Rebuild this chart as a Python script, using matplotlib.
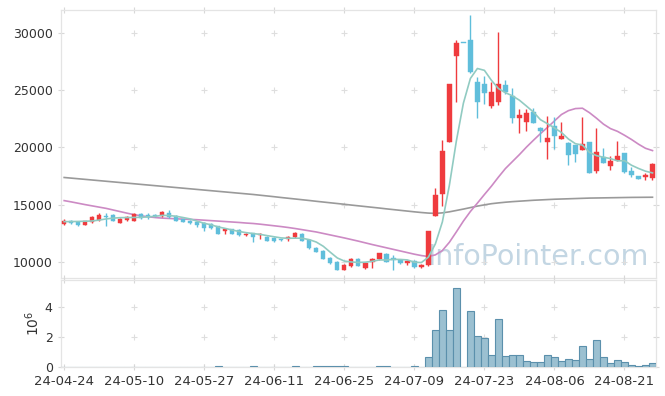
import numpy as np
import matplotlib
matplotlib.use("Agg")
import matplotlib.pyplot as plt

# trading days shown on the chart
dates = ["24-04-24", "24-04-25", "24-04-26", "24-04-29", "24-04-30", "24-05-02", "24-05-03",
         "24-05-07", "24-05-08", "24-05-09", "24-05-10", "24-05-13", "24-05-14", "24-05-16",
         "24-05-17", "24-05-20", "24-05-21", "24-05-22", "24-05-23", "24-05-24", "24-05-27",
         "24-05-28", "24-05-29", "24-05-30", "24-05-31", "24-06-03", "24-06-04", "24-06-05",
         "24-06-07", "24-06-10", "24-06-11", "24-06-12", "24-06-13", "24-06-14", "24-06-17",
         "24-06-18", "24-06-19", "24-06-20", "24-06-21", "24-06-24", "24-06-25", "24-06-26",
         "24-06-27", "24-06-28", "24-07-01", "24-07-02", "24-07-03", "24-07-04", "24-07-05",
         "24-07-08", "24-07-09", "24-07-10", "24-07-11", "24-07-12", "24-07-15", "24-07-16",
         "24-07-17", "24-07-18", "24-07-19", "24-07-22", "24-07-23", "24-07-24", "24-07-25",
         "24-07-26", "24-07-29", "24-07-30", "24-07-31", "24-08-01", "24-08-02", "24-08-05",
         "24-08-06", "24-08-07", "24-08-08", "24-08-09", "24-08-12", "24-08-13", "24-08-14",
         "24-08-16", "24-08-19", "24-08-20", "24-08-21", "24-08-22", "24-08-23", "24-08-26",
         "24-08-27"]

opens = [13320, 13580, 13490, 13260, 13490, 13640, 14050, 14100, 13440, 13670,
         13610, 14190, 14080, 14130, 13990, 14250, 14020, 13730, 13610, 13520,
         13380, 13320, 13120, 12710, 12850, 12800, 12330, 12500, 12360, 12210,
         12130, 12010, 12010, 12150, 12450, 11950, 11220, 10960, 10380, 10000,
         9330, 9680, 10260, 9510, 10030, 10260, 10700, 10320, 10180, 9950,
         10090, 9540, 9740, 14050, 15900, 20460, 28020, 29150, 29420, 25700,
         25520, 23660, 24010, 25460, 24530, 22610, 22260, 23100, 21680, 20510,
         21910, 20740, 20420, 20220, 19780, 20480, 17980, 19200, 18390, 18910,
         19550, 17950, 17510, 17450, 17310]
highs = [13730, 13670, 13500, 13560, 14050, 14310, 14250, 14190, 13810, 14050,
         14250, 14250, 14250, 14160, 14450, 14540, 14100, 13760, 13670, 13580,
         13470, 13380, 13170, 12880, 12910, 12850, 12530, 12530, 12530, 12240,
         12180, 12040, 12300, 12650, 12530, 12010, 11280, 11020, 10440, 10060,
         9800, 10380, 10320, 10000, 10320, 10820, 10820, 10620, 10240, 10180,
         10180, 9800, 12710, 16440, 20660, 25550, 29390, 29150, 31570, 26190,
         26250, 25700, 30100, 25880, 25200, 23350, 23350, 23420, 21820, 22750,
         22640, 22230, 20450, 20250, 22640, 20480, 21680, 19930, 19260, 20600,
         19550, 18270, 17510, 17750, 18620]
lows = [13230, 13320, 13170, 13250, 13430, 13610, 13170, 13550, 13380, 13610,
        13550, 13760, 13790, 13960, 13900, 13870, 13580, 13460, 13290, 13090,
        12740, 12880, 12420, 12420, 12420, 12300, 12240, 11720, 12010, 11800,
        11780, 11830, 11830, 12070, 11830, 11170, 10870, 10230, 9860, 9270,
        9270, 9590, 9620, 9420, 9500, 10200, 10000, 9310, 9830, 9740,
        9510, 9480, 9650, 14050, 14900, 20460, 24010, 29150, 26480, 22610,
        23800, 23430, 23700, 24700, 22120, 21230, 21430, 22110, 20510, 18970,
        19840, 20740, 18470, 18760, 19780, 17800, 17800, 18620, 18040, 18850,
        17800, 17450, 17220, 17160, 17160]
closes = [13600, 13410, 13260, 13550, 13930, 14100, 13960, 13610, 13730, 13900,
          14190, 13810, 13960, 13990, 14380, 13960, 13610, 13520, 13440, 13230,
          13000, 13000, 12480, 12850, 12480, 12360, 12480, 12210, 12480, 11870,
          11860, 11920, 12180, 12530, 11860, 11250, 10900, 10290, 9940, 9330,
          9740, 10290, 9680, 9940, 10260, 10780, 10030, 10150, 9890, 10090,
          9540, 9740, 12710, 15850, 19680, 25550, 29160, 29150, 26630, 24010,
          24740, 24820, 25550, 24820, 22610, 22840, 23020, 22180, 21470, 20860,
          21000, 21000, 19350, 19430, 20280, 17800, 19580, 18680, 18820, 19260,
          17890, 17600, 17280, 17600, 18530]
volumes = [15000, 12000, 14000, 10000, 16000, 18000, 13000, 12000, 11000, 14000,
           15000, 12000, 10000, 11000, 17000, 16000, 12000, 10000, 11000, 12000,
           14000, 13000, 60000, 15000, 12000, 13000, 14000, 60000, 15000, 12000,
           13000, 12000, 15000, 60000, 14000, 16000, 60000, 60000, 60000, 60000,
           60000, 16000, 14000, 15000, 18000, 60000, 60000, 20000, 15000, 18000,
           60000, 20000, 650000, 2480000, 3780000, 2480000, 5300000, 0, 3720000, 2090000,
           1960000, 780000, 3200000, 720000, 780000, 780000, 390000, 330000, 330000, 780000,
           650000, 390000, 520000, 460000, 1370000, 520000, 1830000, 650000, 260000, 460000,
           330000, 130000, 70000, 130000, 260000]

# moving averages as drawn on the chart (5, 20 and 120 days)
ma5 = [13520, 13530, 13540, 13560, 13580, 13660, 13760, 13830, 13870, 13880,
       13890, 13900, 13940, 13990, 14070, 14060, 13990, 13880, 13760, 13560,
       13380, 13240, 13060, 12930, 12790, 12660, 12560, 12480, 12410, 12300,
       12200, 12100, 12070, 12080, 12070, 11950, 11740, 11370, 10850, 10350,
       10080, 10000, 9960, 9980, 10060, 10180, 10170, 10230, 10220, 10180,
       9980, 9950, 10420, 11580, 13500, 16700, 20580, 23870, 26030, 26900,
       26740, 25870, 25150, 24790, 24510, 24130, 23620, 23100, 22430, 22080,
       21710, 21310, 20740, 20330, 20210, 19570, 19290, 19150, 19030, 18830,
       18850, 18450, 18170, 17930, 17780]
ma20 = [15360, 15250, 15130, 15010, 14900, 14790, 14680, 14540, 14400, 14260,
        14130, 14030, 13950, 13880, 13830, 13800, 13770, 13740, 13720, 13690,
        13650, 13610, 13570, 13530, 13490, 13450, 13400, 13360, 13300, 13230,
        13160, 13090, 13010, 12920, 12820, 12720, 12620, 12490, 12360, 12230,
        12100, 11960, 11820, 11670, 11520, 11380, 11240, 11100, 10960, 10820,
        10680, 10560, 10480, 10620, 11000, 11720, 12630, 13570, 14410, 15140,
        15890, 16620, 17410, 18160, 18770, 19380, 20030, 20630, 21210, 21750,
        22320, 22880, 23220, 23400, 23430, 23040, 22560, 22040, 21650, 21410,
        21070, 20700, 20290, 19930, 19730]
ma120 = [17380, 17325, 17270, 17215, 17160, 17105, 17050, 16995, 16940, 16885,
         16830, 16775, 16720, 16665, 16610, 16555, 16500, 16445, 16390, 16335,
         16280, 16225, 16170, 16115, 16060, 16005, 15950, 15895, 15830, 15765,
         15700, 15630, 15565, 15500, 15435, 15370, 15300, 15235, 15170, 15105,
         15040, 14970, 14905, 14840, 14775, 14710, 14640, 14575, 14510, 14445,
         14380, 14320, 14270, 14240, 14290, 14380, 14500, 14620, 14750, 14880,
         14990, 15090, 15160, 15220, 15270, 15310, 15350, 15390, 15420, 15450,
         15480, 15500, 15520, 15540, 15560, 15580, 15590, 15600, 15610, 15620,
         15630, 15640, 15645, 15650, 15655]

price_ticks = [10000, 15000, 20000, 25000, 30000]
vol_ticks = [0, 2000000, 4000000]
vol_tick_labels = ["0", "2", "4"]

up_col = "#ef3b3e"
down_col = "#60bedb"
tick_col = "#d8d8d8"
spine_col = "#e4e4e4"
text_col = "#333333"

o = np.array(opens)
h = np.array(highs)
l = np.array(lows)
c = np.array(closes)
idx = np.arange(len(dates))
colors = np.where(c > o, up_col, down_col)

fig = plt.figure(figsize=(6.65, 3.96), dpi=100)
ax = fig.add_axes([61 / 665, 1 - 278 / 396, 595 / 665, 268 / 396])
axv = fig.add_axes([61 / 665, 1 - 367 / 396, 595 / 665, 87 / 396])

xlim = (-0.45, 84.5)
xt = list(range(0, len(dates), 10))

# candles
ax.vlines(idx, l, h, colors=colors, linewidth=1.0, zorder=3)
body_h = np.maximum(np.abs(c - o), 30)
ax.bar(idx, body_h, bottom=np.minimum(o, c), width=0.62, color=colors,
       edgecolor=colors, linewidth=0.3, zorder=4)

# moving averages
ax.plot(idx, ma120, color="#9a9a9a", linewidth=1.2, zorder=2)
ax.plot(idx, ma20, color="#cc8ac4", linewidth=1.2, zorder=2)
ax.plot(idx, ma5, color="#91cbc2", linewidth=1.2, zorder=5)

ax.text(0.987, 0.08, "InfoPointer.com", transform=ax.transAxes, ha="right", va="center",
        fontsize=20.5, color="#c3d6e3", zorder=1)

ax.set_xlim(xlim)
ax.set_ylim(8600, 32010)
ax.set_yticks(price_ticks)
ax.set_xticks(xt)
ax.set_xticklabels([])

# volume
axv.bar(idx, volumes, width=1.0, color="#9bc0d1", edgecolor="#5b90ac", linewidth=0.8, zorder=3)
axv.set_xlim(xlim)
axv.set_ylim(0, 5800000)
axv.set_yticks(vol_ticks)
axv.set_yticklabels(vol_tick_labels)
axv.set_xticks(xt)
axv.set_xticklabels([dates[i] for i in xt])
axv.set_ylabel("$10^6$", fontsize=10, color=text_col, labelpad=2)

for a, yt in ((ax, price_ticks), (axv, vol_ticks)):
    for s in a.spines.values():
        s.set_color(spine_col)
        s.set_linewidth(0.9)
    a.tick_params(direction="inout", length=5, width=0.8, color=tick_col,
                  labelcolor=text_col, labelsize=9, top=True, right=True)
    # small crosses where the grid lines would meet
    gx, gy = np.meshgrid(xt[1:], yt)
    a.scatter(gx.ravel(), gy.ravel(), marker="+", s=14, color="#dedede", linewidths=0.8, zorder=1)

axv.tick_params(axis="x", labelsize=9.5, pad=3.5)
# lift the zero label a little so it clears the date labels
for lab in axv.get_yticklabels():
    lab.set_verticalalignment("center_baseline")

fig.savefig("out.png", dpi=100)
